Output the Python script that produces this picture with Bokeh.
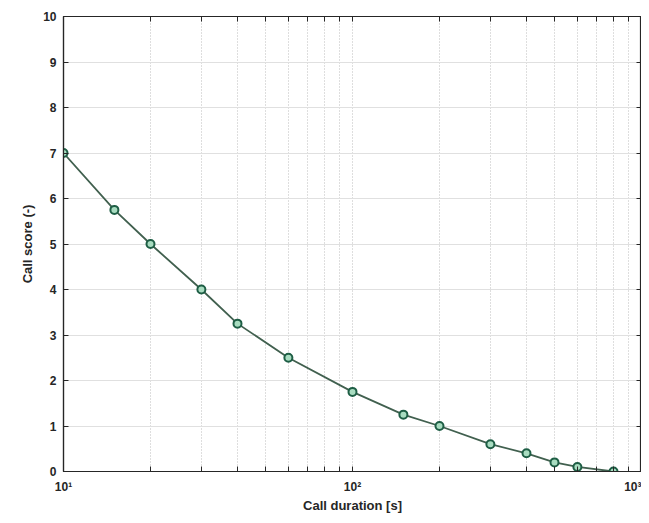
from bokeh.plotting import figure
from bokeh.models import FixedTicker, LogAxis, LinearAxis
from bokeh.embed import file_html
from bokeh.resources import INLINE

duration = [10, 15, 20, 30, 40, 60, 100, 150, 200, 300, 400, 500, 600, 800]
score = [7, 5.75, 5, 4, 3.25, 2.5, 1.75, 1.25, 1, 0.6, 0.4, 0.2, 0.1, 0]
x_major = [10, 100, 1000]
x_minor = [20, 30, 40, 50, 60, 70, 80, 90, 200, 300, 400, 500, 600, 700, 800, 900]
x_labels = ["10¹", "10²", "10³"]
y_ticks = [0, 1, 2, 3, 4, 5, 6, 7, 8, 9, 10]

FONT = "Liberation Sans"
TXT = "#262626"

p = figure(width=641, height=515, x_axis_type="log", x_range=(10, 1000), y_range=(0, 10),
           output_backend="svg", toolbar_location=None,
           min_border_left=63, min_border_right=0, min_border_top=16, min_border_bottom=44)

p.outline_line_color = TXT
p.outline_line_width = 1.2

xt = FixedTicker(ticks=x_major, minor_ticks=x_minor)
yt = FixedTicker(ticks=y_ticks)

p.xaxis.ticker = xt
p.xaxis.major_label_overrides = {t: l for t, l in zip(x_major, x_labels)}
p.yaxis.ticker = yt

for ax in (p.xaxis[0], p.yaxis[0]):
    ax.axis_line_color = TXT
    ax.axis_line_width = 1.2
    ax.major_tick_in = 5
    ax.major_tick_out = 0
    ax.minor_tick_in = 5
    ax.minor_tick_out = 0
    ax.major_tick_line_color = TXT
    ax.minor_tick_line_color = TXT
    ax.major_label_text_font = FONT
    ax.major_label_text_font_style = "bold"
    ax.major_label_text_font_size = "12px"
    ax.major_label_text_color = TXT
    ax.axis_label_text_font = FONT
    ax.axis_label_text_font_style = "bold"
    ax.axis_label_text_font_size = "13px"
    ax.axis_label_text_color = TXT

p.xaxis.axis_label = "Call duration [s]"
p.yaxis.axis_label = "Call score (-)"
p.xaxis.major_label_standoff = 8
p.yaxis.major_label_standoff = 7
p.xaxis.axis_label_standoff = 1
p.yaxis.axis_label_standoff = 5

# top and right tick-only axes (MATLAB box style)
top = LogAxis(ticker=xt, major_label_text_font_size="1px", major_label_text_color=None,
              axis_line_color=None,
              major_tick_in=5, major_tick_out=0, minor_tick_in=5, minor_tick_out=0,
              major_tick_line_color=TXT, minor_tick_line_color=TXT, major_label_standoff=0)
right = LinearAxis(ticker=yt, major_label_text_font_size="1px", major_label_text_color=None,
                   axis_line_color=None,
                   major_tick_in=5, major_tick_out=0, minor_tick_line_color=None,
                   major_tick_line_color=TXT, major_label_standoff=0)
p.add_layout(top, "above")
p.add_layout(right, "right")

p.xgrid.grid_line_color = "#bdbdbd"
p.xgrid.grid_line_dash = "1 2"
p.xgrid.minor_grid_line_color = "#bdbdbd"
p.xgrid.minor_grid_line_dash = "1 2"
p.ygrid.grid_line_color = "#e0e0e0"
p.ygrid.grid_line_width = 1

p.line(duration, score, line_color="#41604f", line_width=1.8)
p.scatter(duration, score, size=8, line_color="#1e5e45", line_width=2, fill_color="#a8dcc0")

open("out.html", "w").write(file_html(p, INLINE))
